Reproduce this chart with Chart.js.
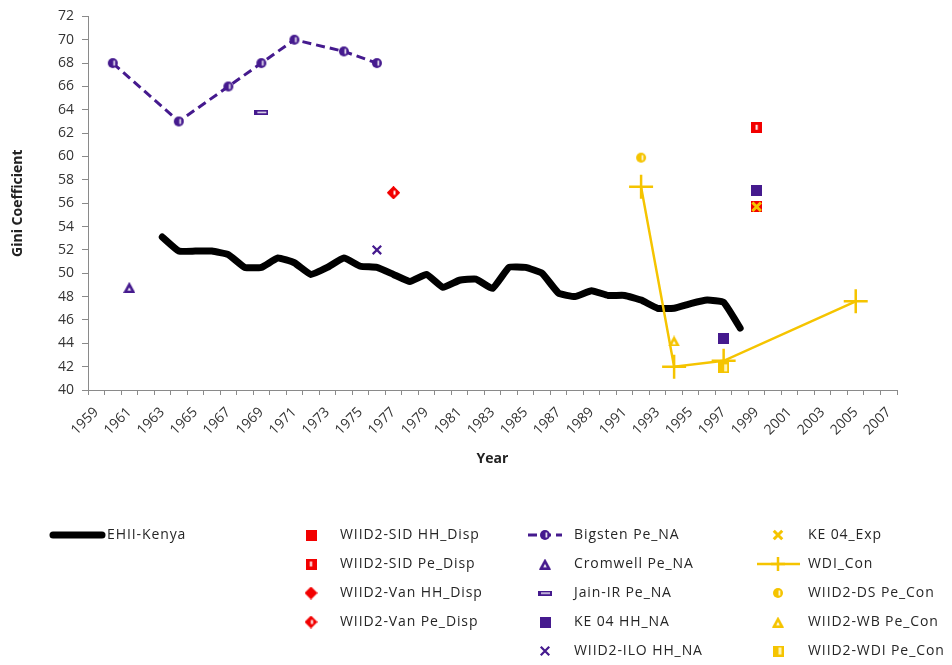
<!DOCTYPE html>
<html>
<head>
<meta charset="utf-8">
<script src="https://cdn.jsdelivr.net/npm/chart.js@4.4.1/dist/chart.umd.min.js"></script>
<style>
  body { margin: 0; background: #fff; }
</style>
</head>
<body>
<canvas id="giniChart" width="952" height="665"></canvas>
<script>
// categories (x axis)
const years = [1959, 1960, 1961, 1962, 1963, 1964, 1965, 1966, 1967, 1968, 1969, 1970, 1971, 1972, 1973,
  1974, 1975, 1976, 1977, 1978, 1979, 1980, 1981, 1982, 1983, 1984, 1985, 1986, 1987, 1988, 1989, 1990,
  1991, 1992, 1993, 1994, 1995, 1996, 1997, 1998, 1999, 2000, 2001, 2002, 2003, 2004, 2005, 2006, 2007];
const yTicks = [40, 42, 44, 46, 48, 50, 52, 54, 56, 58, 60, 62, 64, 66, 68, 70, 72];

// series
const ehiiYears = [1963, 1964, 1965, 1966, 1967, 1968, 1969, 1970, 1971, 1972, 1973, 1974, 1975, 1976, 1977,
  1978, 1979, 1980, 1981, 1982, 1983, 1984, 1985, 1986, 1987, 1988, 1989, 1990, 1991, 1992, 1993, 1994,
  1995, 1996, 1997, 1998];
const ehiiValues = [53.1, 51.9, 51.9, 51.9, 51.6, 50.5, 50.5, 51.3, 50.9, 49.9, 50.5, 51.3, 50.6, 50.5, 49.9,
  49.3, 49.9, 48.8, 49.4, 49.5, 48.7, 50.5, 50.5, 50.0, 48.3, 48.0, 48.5, 48.1, 48.1, 47.7, 47.0, 47.0,
  47.4, 47.7, 47.5, 45.3];

const sidHHYears = [1999];         const sidHHValues = [55.7];
const sidPeYears = [1999];         const sidPeValues = [62.5];
const vanHHYears = [1977];         const vanHHValues = [56.9];
const vanPeYears = [1977];         const vanPeValues = [56.9];
const bigstenYears = [1960, 1964, 1967, 1969, 1971, 1974, 1976];
const bigstenValues = [68, 63, 66, 68, 70, 69, 68];
const cromwellYears = [1961];      const cromwellValues = [48.8];
const jainYears = [1969];          const jainValues = [63.8];
const ke04HHYears = [1997, 1999];  const ke04HHValues = [44.4, 57.1];
const iloYears = [1976];           const iloValues = [52.0];
const ke04ExpYears = [1999];       const ke04ExpValues = [55.7];
const wdiYears = [1992, 1994, 1997, 2005];
const wdiValues = [57.4, 42.0, 42.5, 47.6];
const dsYears = [1992];            const dsValues = [59.9];
const wbYears = [1994];            const wbValues = [44.2];
const wdiPeYears = [1997];         const wdiPeValues = [41.9];

const PURPLE = '#451a8e';
const RED = '#f20000';
const GOLD = '#f5c400';
const FONT = "'Open Sans', sans-serif";

const pts = (xs, ys) => xs.map((x, i) => ({ x: x, y: ys[i] }));

// little marker pictures, like the Excel ones
function marker(w, h, paint) {
  const c = document.createElement('canvas');
  c.width = w;
  c.height = h;
  paint(c.getContext('2d'), w, h);
  return c;
}
const dotMarker = (col) => marker(12, 12, (g) => {
  g.fillStyle = col;
  g.beginPath(); g.arc(6, 6, 5, 0, Math.PI * 2); g.fill();
  g.fillStyle = 'rgba(255,255,255,0.85)';
  g.fillRect(6.5, 3.5, 1.8, 5);
});
const squareMarker = (col, bar) => marker(11, 11, (g) => {
  g.fillStyle = col; g.fillRect(0, 0, 11, 11);
  if (bar) { g.fillStyle = '#fff'; g.fillRect(4.5, 3, 2, 5); }
});
const halfSquareMarker = (col) => marker(11, 11, (g) => {
  g.fillStyle = col; g.fillRect(0, 0, 11, 11);
  g.fillStyle = '#fff3b0'; g.fillRect(6, 2, 3, 7);
});
const diamondMarker = (col, hole) => marker(13, 13, (g) => {
  g.fillStyle = col;
  g.beginPath(); g.moveTo(6.5, 0); g.lineTo(13, 6.5); g.lineTo(6.5, 13); g.lineTo(0, 6.5); g.closePath(); g.fill();
  if (hole) { g.fillStyle = '#fff'; g.fillRect(6.5, 4.5, 2, 4); }
});
const triangleMarker = (col) => marker(12, 11, (g) => {
  g.fillStyle = col;
  g.beginPath(); g.moveTo(6, 0); g.lineTo(12, 11); g.lineTo(0, 11); g.closePath(); g.fill();
  g.fillStyle = '#fff';
  g.beginPath(); g.moveTo(6, 5.5); g.lineTo(7.8, 8.8); g.lineTo(4.2, 8.8); g.closePath(); g.fill();
});
const dashMarker = (col) => marker(14, 5, (g) => {
  g.fillStyle = col; g.fillRect(0, 0, 14, 5);
  g.fillStyle = '#fff'; g.fillRect(3, 2, 9, 1.3);
});

function series(label, xs, ys, extra) {
  return Object.assign({
    label: label,
    data: pts(xs, ys),
    showLine: false,
    borderColor: PURPLE,
    backgroundColor: PURPLE,
    pointRadius: 6,
    order: 1,
  }, extra);
}

const datasets = [
  series('EHII-Kenya', ehiiYears, ehiiValues, {
    showLine: true, borderColor: '#000', backgroundColor: '#000', borderWidth: 7,
    pointRadius: 0, tension: 0.12, borderCapStyle: 'round', borderJoinStyle: 'round', order: 5,
  }),
  series('WIID2-SID HH_Disp', sidHHYears, sidHHValues, { pointStyle: squareMarker(RED, false), order: 3 }),
  series('WIID2-SID Pe_Disp', sidPeYears, sidPeValues, { pointStyle: squareMarker(RED, true) }),
  series('WIID2-Van HH_Disp', vanHHYears, vanHHValues, { pointStyle: diamondMarker(RED, false), order: 3 }),
  series('WIID2-Van Pe_Disp', vanPeYears, vanPeValues, { pointStyle: diamondMarker(RED, true) }),
  series('Bigsten Pe_NA', bigstenYears, bigstenValues, {
    showLine: true, borderWidth: 3, borderDash: [9, 5], pointStyle: dotMarker(PURPLE),
  }),
  series('Cromwell Pe_NA', cromwellYears, cromwellValues, { pointStyle: triangleMarker(PURPLE) }),
  series('Jain-IR Pe_NA', jainYears, jainValues, { pointStyle: dashMarker(PURPLE) }),
  series('KE 04 HH_NA', ke04HHYears, ke04HHValues, { pointStyle: squareMarker(PURPLE, false) }),
  series('WIID2-ILO HH_NA', iloYears, iloValues, { pointStyle: 'crossRot', pointBorderWidth: 2.2, pointRadius: 6 }),
  series('KE 04_Exp', ke04ExpYears, ke04ExpValues, {
    pointStyle: 'crossRot', borderColor: GOLD, backgroundColor: GOLD, pointBorderWidth: 3, pointRadius: 6, order: 0,
  }),
  series('WDI_Con', wdiYears, wdiValues, {
    showLine: true, borderColor: GOLD, backgroundColor: GOLD, borderWidth: 2.5,
    pointStyle: 'cross', pointRadius: 12, pointBorderWidth: 2.5, order: 2,
  }),
  series('WIID2-DS Pe_Con', dsYears, dsValues, { pointStyle: dotMarker(GOLD) }),
  series('WIID2-WB Pe_Con', wbYears, wbValues, { pointStyle: triangleMarker(GOLD) }),
  series('WIID2-WDI Pe_Con', wdiPeYears, wdiPeValues, { pointStyle: halfSquareMarker(GOLD) }),
];

// legend grid: [dataset index, column, row]
const legendSlots = [
  [0, 0, 0],
  [1, 1, 0], [2, 1, 1], [3, 1, 2], [4, 1, 3],
  [5, 2, 0], [6, 2, 1], [7, 2, 2], [8, 2, 3], [9, 2, 4],
  [10, 3, 0], [11, 3, 1], [12, 3, 2], [13, 3, 3], [14, 3, 4],
];
const legendCols = [
  { mark: 78, line: [53, 102], text: 107 },
  { mark: 311, line: [298, 324], text: 340 },
  { mark: 545, line: [528, 562], text: 574 },
  { mark: 778, line: [757, 800], text: 808 },
];

const gridLegend = {
  id: 'gridLegend',
  afterDraw(chart) {
    const { ctx } = chart;
    legendSlots.forEach(([di, col, row]) => {
      const ds = chart.data.datasets[di];
      const c = legendCols[col];
      const y = 535 + row * 29;
      ctx.save();
      ctx.strokeStyle = ds.borderColor;
      ctx.fillStyle = ds.backgroundColor;
      if (ds.showLine) {
        ctx.lineWidth = ds.borderWidth;
        ctx.lineCap = ds.borderCapStyle || 'butt';
        ctx.setLineDash(ds.borderDash || []);
        ctx.beginPath();
        ctx.moveTo(c.line[0], y);
        ctx.lineTo(c.line[1], y);
        ctx.stroke();
        ctx.setLineDash([]);
      }
      if (ds.pointRadius > 0) {
        ctx.lineWidth = ds.pointBorderWidth || 1;
        const r = ds.pointStyle === 'cross' ? 7 : ds.pointRadius;
        Chart.helpers.drawPoint(ctx, { pointStyle: ds.pointStyle, radius: r, borderWidth: ctx.lineWidth, rotation: 0 }, c.mark, y);
      }
      ctx.fillStyle = '#262626';
      ctx.font = '14px ' + FONT;
      ctx.letterSpacing = '0.9px';
      ctx.textBaseline = 'middle';
      ctx.textAlign = 'left';
      ctx.fillText(ds.label, c.text, y);
      ctx.restore();
    });
  },
};

new Chart(document.getElementById('giniChart'), {
  type: 'line',
  data: { labels: years, datasets: datasets },
  options: {
    responsive: false,
    animation: false,
    layout: { padding: { top: 12, right: 55, bottom: 194, left: 6 } },
    plugins: { legend: { display: false }, tooltip: { enabled: false } },
    scales: {
      x: {
        type: 'category',
        offset: true,
        grid: { offset: true, drawOnChartArea: false, tickLength: 5, color: '#8a8a8a' },
        border: { color: '#8a8a8a' },
        ticks: {
          autoSkip: false,
          minRotation: 45,
          maxRotation: 45,
          padding: 9,
          color: '#333',
          font: { family: FONT, size: 14 },
          callback: function (value, index) {
            return index % 2 === 0 ? String(this.getLabelForValue(value)) : '';
          },
        },
        title: { display: true, text: 'Year', color: '#222', font: { family: FONT, size: 14, weight: 'bold' } },
        afterFit: (scale) => { scale.height = 81; },
      },
      y: {
        min: 40,
        max: 72,
        afterBuildTicks: (scale) => { scale.ticks = yTicks.map((v) => ({ value: v })); },
        grid: { drawOnChartArea: false, tickLength: 6, color: '#8a8a8a' },
        border: { color: '#8a8a8a' },
        ticks: { color: '#333', padding: 8, font: { family: FONT, size: 14 } },
        title: { display: true, text: 'Gini Coefficient', color: '#222', font: { family: FONT, size: 14, weight: 'bold' } },
        afterFit: (scale) => { scale.width = 82; },
      },
    },
  },
  plugins: [gridLegend],
});
</script>
</body>
</html>
